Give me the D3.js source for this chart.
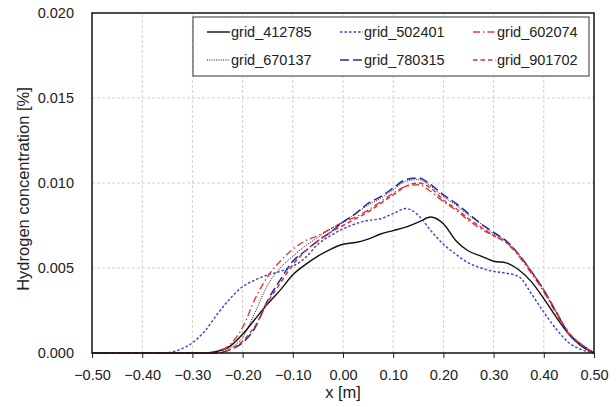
<!DOCTYPE html>
<html>
<head>
<meta charset="utf-8">
<script src="https://cdn.jsdelivr.net/npm/d3@7"></script>
<style>
  body { margin: 0; background: #fff; }
  text { font-family: "Liberation Sans", Arial, sans-serif; fill: #222; }
</style>
</head>
<body>
<div id="chart"></div>
<script>
// x positions shared by every series (m)
var xs = d3.range(41).map(function(i){ return +(-0.5 + 0.025 * i).toFixed(3); });

// hydrogen concentration [%] per grid
var g412785 = [0,0,0,0,0,0,0,0,0,0, 0.0001,0.0004,0.0011,0.0020,0.0029,0.0037,0.0046,0.0052,0.0057,0.0061,
  0.0064,0.0065,0.0067,0.0070,0.0072,0.0074,0.0077,0.0080,0.0076,0.0066,
  0.0060,0.0057,0.0054,0.0053,0.0049,0.0042,0.0032,0.0021,0.0011,0.0004,0];
var g502401 = [0,0,0,0,0,0, 0.00002,0.0002,0.0006,0.0013,0.0023,0.0032,0.0039,0.0043,0.0046,0.0048,0.0051,0.0056,0.0064,0.0069,
  0.0073,0.0076,0.0078,0.0079,0.0082,0.0085,0.0081,0.0072,0.0064,0.0058,
  0.0053,0.0050,0.0048,0.0047,0.0045,0.0035,0.0024,0.0014,0.0006,0.0002,0];
var g602074 = [0,0,0,0,0,0,0,0,0,0, 0.0001,0.0005,0.0015,0.0032,0.0045,0.0054,0.0061,0.0066,0.0069,0.0073,
  0.0077,0.0080,0.0084,0.0089,0.0094,0.0098,0.0099,0.0095,0.0089,0.0084,
  0.0078,0.0073,0.0069,0.0065,0.0057,0.0047,0.0036,0.0023,0.0011,0.0005,0];
var g670137 = [0,0,0,0,0,0,0,0,0,0, 0.0001,0.0003,0.0009,0.0024,0.0040,0.0050,0.0057,0.0063,0.0068,0.0073,
  0.0077,0.0082,0.0087,0.0091,0.0096,0.0101,0.0102,0.0098,0.0092,0.0087,
  0.0081,0.0076,0.0070,0.0066,0.0058,0.0048,0.0037,0.0024,0.0012,0.0005,0];
var g780315 = [0,0,0,0,0,0,0,0,0,0, 0,0.0002,0.0006,0.0015,0.0031,0.0043,0.0054,0.0060,0.0066,0.0071,
  0.0077,0.0082,0.0088,0.0092,0.0097,0.0102,0.0103,0.0099,0.0093,0.0088,
  0.0082,0.0076,0.0071,0.0066,0.0058,0.0048,0.0037,0.0024,0.0011,0.0005,0];
var g901702 = [0,0,0,0,0,0,0,0,0,0, 0,0.0002,0.0007,0.0016,0.0030,0.0041,0.0052,0.0060,0.0066,0.0071,
  0.0075,0.0079,0.0083,0.0088,0.0093,0.0098,0.0100,0.0097,0.0090,0.0085,
  0.0079,0.0074,0.0069,0.0065,0.0058,0.0048,0.0037,0.0024,0.0012,0.0005,0];

var seriesNames = ['grid_412785', 'grid_502401', 'grid_602074', 'grid_670137', 'grid_780315', 'grid_901702'];
var seriesValues = [g412785, g502401, g602074, g670137, g780315, g901702];

var xTicks = [-0.5, -0.4, -0.3, -0.2, -0.1, 0, 0.1, 0.2, 0.3, 0.4, 0.5];
var yTicks = [0, 0.005, 0.010, 0.015, 0.020];

// line look for each series
var styles = [
  { color: '#111', dash: null, width: 1.4 },
  { color: '#3b3bd6', dash: '2.5,2', width: 1.4 },
  { color: '#e03c3c', dash: '7,3,1.5,3', width: 1.4 },
  { color: '#111', dash: '1,1.3', width: 1 },
  { color: '#1f2aa8', dash: '9,4', width: 1.5 },
  { color: '#e03030', dash: '4.5,3', width: 1.5 }
];

var width = 616, height = 407;
var margin = { left: 92, right: 22, top: 13, bottom: 54 };

var svg = d3.select('#chart').append('svg')
  .attr('width', width)
  .attr('height', height);

var x = d3.scaleLinear().domain([-0.5, 0.5]).range([margin.left, width - margin.right]);
var y = d3.scaleLinear().domain([0, 0.02]).range([height - margin.bottom, margin.top]);

// grid
svg.append('g').selectAll('line.vg')
  .data(xTicks.slice(1, -1))
  .enter().append('line')
  .attr('x1', function(d){ return x(d); })
  .attr('x2', function(d){ return x(d); })
  .attr('y1', y(0)).attr('y2', y(0.02))
  .attr('stroke', '#d0d0d0').attr('stroke-dasharray', '3,2').attr('stroke-width', 1);

svg.append('g').selectAll('line.hg')
  .data(yTicks.slice(1, -1))
  .enter().append('line')
  .attr('x1', x(-0.5)).attr('x2', x(0.5))
  .attr('y1', function(d){ return y(d); })
  .attr('y2', function(d){ return y(d); })
  .attr('stroke', '#d0d0d0').attr('stroke-dasharray', '3,2').attr('stroke-width', 1);

// curves
var line = d3.line()
  .x(function(d){ return x(d[0]); })
  .y(function(d){ return y(d[1]); })
  .curve(d3.curveMonotoneX);

svg.append('g').selectAll('path')
  .data(seriesValues)
  .enter().append('path')
  .attr('d', function(vals){ return line(xs.map(function(v, i){ return [v, vals[i]]; })); })
  .attr('fill', 'none')
  .attr('stroke', function(d, i){ return styles[i].color; })
  .attr('stroke-width', function(d, i){ return styles[i].width; })
  .attr('stroke-dasharray', function(d, i){ return styles[i].dash; });

// axes
var xAxis = svg.append('g')
  .attr('transform', 'translate(0,' + y(0) + ')')
  .call(d3.axisBottom(x).tickValues(xTicks).tickSize(5).tickSizeOuter(0)
    .tickFormat(function(d){ return d3.format('.2f')(d).replace('-', '\u2212'); }));
xAxis.select('.domain').remove();
xAxis.selectAll('line').attr('stroke', '#222');
xAxis.selectAll('text').attr('dy', '1.3em').style('font-size', '14.5px').attr('fill', '#222');

var yAxis = svg.append('g')
  .attr('transform', 'translate(' + x(-0.5) + ',0)')
  .call(d3.axisLeft(y).tickValues(yTicks).tickSize(0).tickPadding(18)
    .tickFormat(d3.format('.3f')));
yAxis.select('.domain').remove();
yAxis.selectAll('text').style('font-size', '14.5px').attr('fill', '#222');

// frame
svg.append('rect')
  .attr('x', x(-0.5)).attr('y', y(0.02))
  .attr('width', x(0.5) - x(-0.5)).attr('height', y(0) - y(0.02))
  .attr('fill', 'none').attr('stroke', '#111').attr('stroke-width', 1.5);

// titles
svg.append('text')
  .attr('x', x(0)).attr('y', 398)
  .attr('text-anchor', 'middle')
  .style('font-size', '16.5px')
  .text('x [m]');

svg.append('text')
  .attr('transform', 'translate(29,189) rotate(-90)')
  .attr('text-anchor', 'middle')
  .style('font-size', '16.5px')
  .text('Hydrogen concentration [%]');

// legend
var legend = svg.append('g');
legend.append('rect')
  .attr('x', 193).attr('y', 17).attr('width', 396).attr('height', 59)
  .attr('fill', '#fff').attr('stroke', '#333').attr('stroke-width', 1);

var colX = [207, 340, 473];
var rowY = [32, 60];
var items = legend.selectAll('g.item')
  .data(seriesNames)
  .enter().append('g')
  .attr('transform', function(d, i){ return 'translate(' + colX[i % 3] + ',' + rowY[Math.floor(i / 3)] + ')'; });

items.append('line')
  .attr('x1', 0).attr('x2', 23).attr('y1', 0).attr('y2', 0)
  .attr('stroke', function(d, i){ return styles[i].color; })
  .attr('stroke-width', function(d, i){ return styles[i].width; })
  .attr('stroke-dasharray', function(d, i){ return styles[i].dash; });

items.append('text')
  .attr('x', 24).attr('y', 5)
  .style('font-size', '14.5px')
  .text(function(d){ return d; });
</script>
</body>
</html>
